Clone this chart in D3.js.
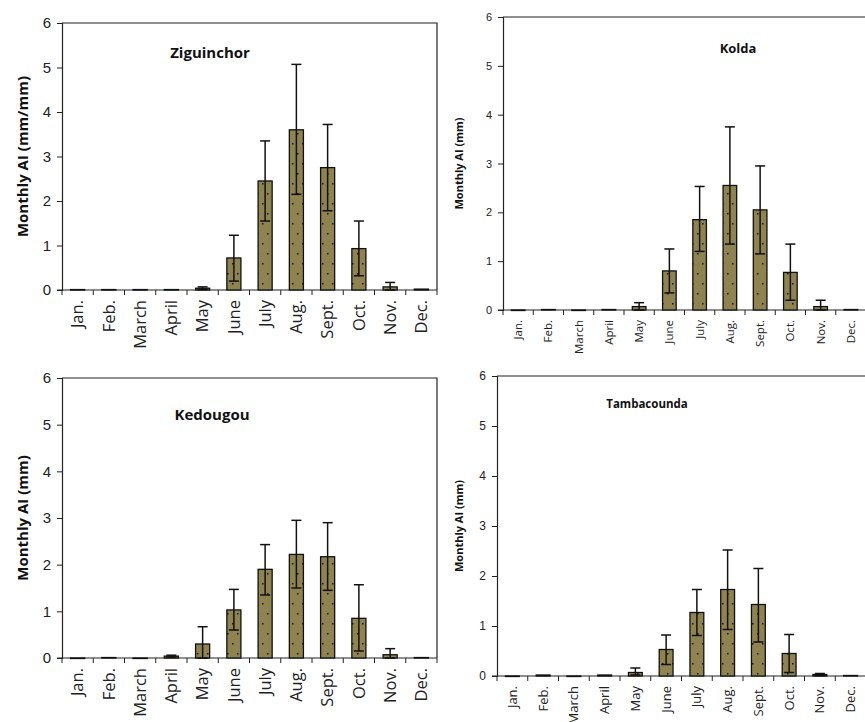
<!DOCTYPE html>
<html><head><meta charset="utf-8">
<script src="https://cdn.jsdelivr.net/npm/d3@7/dist/d3.min.js"></script>
<style>body{margin:0;background:#fff}svg{font-family:"Open Sans",Lato,sans-serif}</style>
</head><body><svg id="c" width="865" height="722"></svg>
<script>
const months=["Jan.","Feb.","March","April","May","June","July","Aug.","Sept.","Oct.","Nov.","Dec."];
const yTicks=[0,1,2,3,4,5,6];
const zigVal=[0.01,0.01,0.01,0.01,0.04,0.72,2.45,3.6,2.75,0.93,0.07,0.02];
const zigHi=[null,null,null,null,0.07,1.23,3.35,5.07,3.72,1.55,0.17,null];
const zigLo=[null,null,null,null,0.01,0.2,1.55,2.15,1.78,0.32,0.0,null];
const kolVal=[0,0.01,0,0.01,0.07,0.8,1.85,2.55,2.05,0.77,0.07,0.01];
const kolHi=[null,null,null,null,0.15,1.25,2.53,3.75,2.95,1.35,0.2,null];
const kolLo=[null,null,null,null,0,0.35,1.2,1.35,1.15,0.2,0,null];
const kedVal=[0,0.01,0,0.04,0.3,1.03,1.9,2.22,2.17,0.85,0.07,0.01];
const kedHi=[null,null,null,0.06,0.67,1.47,2.43,2.95,2.9,1.57,0.2,null];
const kedLo=[null,null,null,0.02,0,0.6,1.35,1.5,1.45,0.15,0,null];
const tamVal=[0,0.02,0,0.02,0.07,0.53,1.27,1.73,1.43,0.45,0.03,0.01];
const tamHi=[null,null,null,null,0.16,0.82,1.73,2.52,2.15,0.83,0.05,null];
const tamLo=[null,null,null,null,0.02,0.23,0.81,0.93,0.68,0.07,0.01,null];

const panels=[
 {t:"Ziguinchor",v:zigVal,hi:zigHi,lo:zigLo,x0:62,x1:437,y0:23,y1:290,fs:15,xfs:16.5,ylab:"Monthly AI (mm/mm)",yfs:15,yx:22,tx:210,ty:58,tfs:15},
 {t:"Kolda",v:kolVal,hi:kolHi,lo:kolLo,x0:503,x1:866,y0:17,y1:310,fs:11,xfs:11.5,ylab:"Monthly AI (mm)",yfs:11,yx:458,tx:738,ty:53,tfs:13},
 {t:"Kedougou",v:kedVal,hi:kedHi,lo:kedLo,x0:62,x1:437,y0:378,y1:658,fs:15,xfs:16.5,ylab:"Monthly AI (mm)",yfs:15,yx:22,tx:212,ty:420,tfs:15},
 {t:"Tambacounda",v:tamVal,hi:tamHi,lo:tamLo,x0:497,x1:866,y0:376,y1:676,fs:12,xfs:13,ylab:"Monthly AI (mm)",yfs:11,yx:458,tx:647,ty:408,tfs:11.5}
];
const svg=d3.select("#c");
const defs=svg.append("defs");
const pat=defs.append("pattern").attr("id","dots").attr("patternUnits","userSpaceOnUse").attr("width",10).attr("height",20);
pat.append("rect").attr("width",10).attr("height",20).attr("fill","#8f8450");
pat.append("rect").attr("x",2).attr("y",3).attr("width",1.5).attr("height",1.5).attr("fill","#111");
pat.append("rect").attr("x",7).attr("y",13).attr("width",1.5).attr("height",1.5).attr("fill","#111");

panels.forEach(p=>{
 const g=svg.append("g");
 const x=d3.scaleBand().domain(months).range([p.x0,p.x1]);
 const y=d3.scaleLinear().domain([0,6]).range([p.y1,p.y0]);
 g.append("path").attr("d",`M${p.x0},${p.y0}H${p.x1}V${p.y1}`).attr("fill","none").attr("stroke","#222").attr("stroke-width",1.2);
 const ya=g.append("g").attr("transform",`translate(${p.x0},0)`).call(d3.axisLeft(y).tickValues(yTicks).tickSize(5).tickPadding(6).tickFormat(d3.format("d")));
 ya.selectAll("text").attr("font-size",p.fs).attr("fill","#222");
 ya.select(".domain").attr("stroke","#222").attr("stroke-width",1.2);
 ya.selectAll("line").attr("stroke","#222");
 g.append("line").attr("x1",p.x0-5).attr("x2",p.x1).attr("y1",p.y1).attr("y2",p.y1).attr("stroke","#222").attr("stroke-width",1.2);
 const edges=months.map(m=>x(m)).concat([p.x1]);
 g.selectAll("line.tk").data(edges).join("line").attr("x1",d=>d).attr("x2",d=>d).attr("y1",p.y1).attr("y2",p.y1+5).attr("stroke","#222");
 g.selectAll("text.ml").data(months).join("text")
  .attr("transform",d=>`translate(${x(d)+x.bandwidth()/2+p.xfs*0.35},${p.y1+10}) rotate(-90)`)
  .attr("text-anchor","end").attr("font-size",p.xfs).attr("fill","#222").text(d=>d);
 const bw=x.bandwidth()*0.45;
 months.forEach((m,i)=>{
  const cx=x(m)+x.bandwidth()/2;
  g.append("rect").attr("x",cx-bw/2).attr("width",bw).attr("y",y(p.v[i])).attr("height",Math.max(0.5,y(0)-y(p.v[i])))
   .attr("fill","url(#dots)").attr("stroke","#111").attr("stroke-width",1.3);
  if(p.hi[i]!=null){
   const e=g.append("g").attr("stroke","#111").attr("stroke-width",1.5);
   e.append("line").attr("x1",cx).attr("x2",cx).attr("y1",y(p.hi[i])).attr("y2",y(p.lo[i]));
   e.append("line").attr("x1",cx-5).attr("x2",cx+5).attr("y1",y(p.hi[i])).attr("y2",y(p.hi[i]));
   e.append("line").attr("x1",cx-5).attr("x2",cx+5).attr("y1",y(p.lo[i])).attr("y2",y(p.lo[i]));
  }
 });
 g.append("text").attr("x",p.tx).attr("y",p.ty).attr("text-anchor","middle").attr("font-weight","bold").attr("font-size",p.tfs).attr("fill","#111").text(p.t);
 g.append("text").attr("transform",`translate(${p.yx},${(p.y0+p.y1)/2}) rotate(-90)`).attr("text-anchor","middle").attr("dominant-baseline","central")
  .attr("font-weight","bold").attr("font-size",p.yfs).attr("fill","#111").text(p.ylab);
});
</script></body></html>
